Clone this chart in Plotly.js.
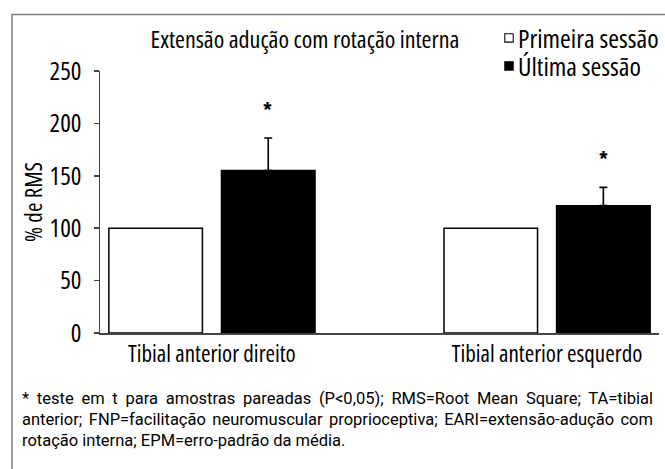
<!DOCTYPE html>
<html>
<head>
<meta charset="utf-8">
<script src="https://cdn.plot.ly/plotly-3.0.1.min.js"></script>
<style>
html,body{margin:0;padding:0;background:#fff;}
#chart{width:665px;height:469px;}
svg text{font-stretch:75% !important;}
svg g.annotation[data-index="0"] text{font-stretch:100% !important;}
</style>
</head>
<body>
<div id="chart"></div>
<script>
// Data
const categories = ["Tibial anterior direito", "Tibial anterior esquerdo"];
const seriesNames = ["Primeira sessão", "Última sessão"];
const primeira = [100, 100];
const ultima = [155, 121.5];
const ultimaErr = [31, 17.5];
const significant = [true, true];
const yTicks = [0, 50, 100, 150, 200, 250];
const chartTitle = "Extensão adução com rotação interna";
const yTitle = "% de RMS";
const captionLines = [
  "* teste em t para amostras pareadas (P<0,05); RMS=Root Mean Square; TA=tibial",
  "anterior; FNP=facilitação neuromuscular proprioceptiva; EARI=extensão-adução com",
  "rotação interna; EPM=erro-padrão da média."
];

const FONT = "'Open Sans', 'DejaVu Sans', sans-serif";
const CAPFONT = "Roboto, 'Open Sans', sans-serif";
const esc = s => s.replace(/&/g, "&amp;").replace(/</g, "&lt;").replace(/>/g, "&gt;");

const traces = [
  {
    type: "bar", name: seriesNames[0], x: categories, y: primeira, legend: "legend",
    marker: {color: "#ffffff", line: {color: "#000000", width: 1.5}},
    hoverinfo: "skip"
  },
  {
    type: "bar", name: seriesNames[1], x: categories, y: ultima, legend: "legend2",
    marker: {color: "#000000", line: {color: "#000000", width: 1.5}},
    error_y: {type: "data", array: ultimaErr, arrayminus: [0, 0], symmetric: false,
              color: "#000000", thickness: 1.6, width: 4},
    hoverinfo: "skip"
  }
];

// plot area: x 100..659, y 71..333
const annotations = [];
// caption first (index 0)
annotations.push({
  text: captionLines.map(esc).join("<br>"), xref: "paper", yref: "paper",
  x: (20 - 100) / 559, y: (333 - 387) / 262,
  xanchor: "left", yanchor: "top", align: "left", showarrow: false,
  font: {family: CAPFONT, size: 16.5, color: "#000"}
});
categories.forEach((c, i) => {
  if (significant[i]) {
    annotations.push({
      x: c, y: ultima[i] + ultimaErr[i], xref: "x", yref: "y",
      text: "<b>*</b>", showarrow: false, xshift: 56, yshift: 29,
      font: {family: FONT, size: 20, color: "#000"},
      xanchor: "center", yanchor: "middle"
    });
  }
});

const legendCommon = {
  x: (478 - 100) / 559, xanchor: "left", yanchor: "middle",
  font: {family: FONT, size: 26, color: "#000"},
  bgcolor: "rgba(0,0,0,0)", itemclick: false, borderwidth: 0
};

const layout = {
  width: 665, height: 469,
  margin: {l: 100, r: 6, t: 71, b: 136, autoexpand: false},
  paper_bgcolor: "#ffffff", plot_bgcolor: "#ffffff",
  font: {family: FONT, color: "#000", size: 21},
  title: {
    text: chartTitle, xref: "paper", x: (305 - 100) / 559, xanchor: "center",
    yref: "container", y: 1 - 40 / 469, yanchor: "middle",
    font: {family: FONT, size: 24, color: "#000"}
  },
  barmode: "group", bargap: 0.328, bargroupgap: 0.169,
  showlegend: true,
  legend: Object.assign({}, legendCommon, {y: (333 - 38) / 262}),
  legend2: Object.assign({}, legendCommon, {y: (333 - 66) / 262}),
  xaxis: {
    type: "category", range: [-0.334, 1.334],
    showline: true, linecolor: "#444", linewidth: 1.5,
    ticks: "", showgrid: false, zeroline: false,
    tickfont: {family: FONT, size: 23, color: "#000"}, fixedrange: true
  },
  yaxis: {
    range: [0, 250], tickvals: yTicks, ticktext: yTicks.map(String),
    showline: true, linecolor: "#444", linewidth: 1.5,
    ticks: "outside", ticklen: 5, tickcolor: "#444", tickwidth: 1.5,
    showgrid: false, zeroline: false, ticklabelstandoff: 7,
    tickfont: {family: FONT, size: 25, color: "#000"},
    title: {text: yTitle, font: {family: FONT, size: 23, color: "#000"}, standoff: 0},
    fixedrange: true
  },
  shapes: [{
    type: "rect", xref: "paper", yref: "paper",
    x0: (12 - 100) / 559, x1: (700 - 100) / 559,
    y0: (333 - 520) / 262, y1: (333 - 14.5) / 262,
    line: {color: "#808080", width: 1.5}, fillcolor: "rgba(0,0,0,0)", layer: "below"
  }],
  annotations: annotations
};

Plotly.newPlot("chart", traces, layout, {displayModeBar: false, staticPlot: true}).then(gd => {
  // small square swatches right next to the labels
  gd.querySelectorAll(".legendpoints path").forEach(p => {
    p.setAttribute("transform", "translate(31,0) scale(0.7)");
  });
  // caption: tighter line spacing and justified first lines
  const cap = gd.querySelector('g.annotation[data-index="0"] text');
  if (cap) {
    const lines = cap.querySelectorAll("tspan.line");
    const target = 652 - 21;
    lines.forEach((ln, i) => {
      ln.setAttribute("dy", (i * 21) + "px");
      if (i >= lines.length - 1) return;
      const w = ln.getComputedTextLength();
      const n = (ln.textContent.match(/ /g) || []).length;
      if (n > 0 && w < target) ln.style.wordSpacing = ((target - w) / n) + "px";
    });
  }
});
</script>
</body>
</html>
